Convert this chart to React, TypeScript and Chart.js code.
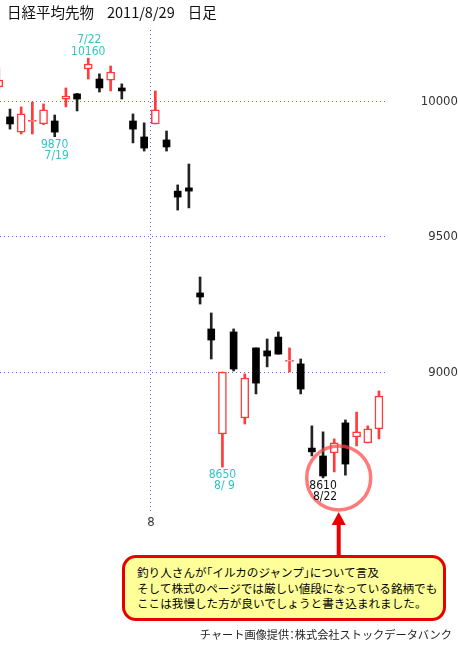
import React, { useEffect, useRef } from 'react';
import { Chart, registerables } from 'chart.js';

Chart.register(...registerables);

// ---- data ----
const DATES = ['7/11', '7/12', '7/13', '7/14', '7/15', '7/19', '7/20', '7/21', '7/22', '7/25', '7/26', '7/27', '7/28', '7/29', '8/1', '8/2', '8/3', '8/4', '8/5', '8/8', '8/9', '8/10', '8/11', '8/12', '8/15', '8/16', '8/17', '8/18', '8/19', '8/22', '8/23', '8/24', '8/25', '8/26', '8/29'];
const OPEN = [10054, 9943, 9887, 9926, 9917, 9928, 10009, 10028, 10120, 10083, 10079, 10050, 9928, 9869, 9917, 9858, 9669, 9681, 9293, 9160, 8772, 9149, 8831, 9090, 9079, 9130, 9040, 9031, 8720, 8691, 8702, 8813, 8761, 8739, 8791];
const HIGH = [10124, 9972, 9980, 9998, 9991, 9950, 10050, 10030, 10160, 10102, 10131, 10065, 9954, 9921, 10039, 9891, 9692, 9769, 9352, 9219, 9001, 9160, 8994, 9090, 9123, 9149, 9090, 9049, 8802, 8780, 8754, 8824, 8853, 8802, 8931];
const LOW = [10045, 9898, 9880, 9880, 9915, 9870, 9980, 9965, 10083, 10035, 10039, 10009, 9847, 9817, 9917, 9817, 9599, 9607, 9252, 9049, 8650, 9005, 8809, 8920, 9020, 9067, 9001, 8920, 8691, 8610, 8632, 8620, 8728, 8739, 8754];
const CLOSE = [10079, 9917, 9954, 9930, 9969, 9887, 10020, 10009, 10138, 10050, 10109, 10039, 9898, 9828, 9969, 9832, 9647, 9669, 9278, 9119, 9001, 9012, 8979, 8960, 9060, 9067, 9044, 8938, 8706, 8617, 8739, 8661, 8780, 8791, 8912];

const Y_TICKS = [9000, 9500, 10000];
const MONTH_MARKS = [13.6];
const MONTH_LABELS = ['8'];

const HIGH_NOTE_DATES = ['7/22'];
const HIGH_NOTE_VALUES = [10160];
const LOW_NOTE_DATES = ['7/19', '8/9', '8/22'];
const LOW_NOTE_TEXT = ['7/19', '8/ 9', '8/22'];
const LOW_NOTE_VALUES = [9870, 8650, 8610];

const CIRCLE_X = 30.4;
const CIRCLE_Y = 8610;

const TITLE = '日経平均先物    2011/8/29    日足';
const NOTE_LINES = [
  '釣り人さんが「イルカのジャンプ」について言及',
  'そして株式のページでは厳しい値段になっている銘柄でも',
  'ここは我慢した方が良いでしょうと書き込まれました。',
];
const CREDIT = 'チャート画像提供：株式会社ストックデータバンク';

// ---- styles ----
const RED = '#ff3b3b';
const BLACK = '#000000';
const WICK_BLACK = '#222222';
const GRID = 'rgba(70,70,255,0.85)';
const CYAN = 'rgb(50,196,196)';
const NARROW = "'Liberation Sans Narrow', 'DejaVu Sans Condensed', 'Arial Narrow', sans-serif";
const CJK = "'Noto Sans CJK JP', 'Noto Sans', sans-serif";

const X_MIN = 0.106;
const X_MAX = 34.63;
const Y_MIN = 8484;
const Y_MAX = 10264;

const idx = (d: string) => DATES.indexOf(d);

const zeroPad = (axis: any) => {
  axis.paddingLeft = 0;
  axis.paddingRight = 0;
  axis.paddingTop = 0;
  axis.paddingBottom = 0;
};

const notesPlugin = {
  id: 'priceNotes',
  afterDatasetsDraw(chart: any) {
    const { ctx, scales } = chart;
    const xs = scales.x;
    const ys = scales.y;
    ctx.save();
    ctx.font = `12px ${NARROW}`;
    ctx.textAlign = 'center';
    ctx.textBaseline = 'middle';
    HIGH_NOTE_DATES.forEach((d, k) => {
      const px = xs.getPixelForValue(idx(d));
      const py = ys.getPixelForValue(HIGH_NOTE_VALUES[k]);
      ctx.fillStyle = CYAN;
      ctx.fillText(String(HIGH_NOTE_VALUES[k]), px, py - 6);
      ctx.fillText(d, px + 1, py - 18);
    });
    LOW_NOTE_DATES.forEach((d, k) => {
      const px = xs.getPixelForValue(idx(d));
      const py = ys.getPixelForValue(LOW_NOTE_VALUES[k]);
      ctx.fillStyle = k === 2 ? '#111' : CYAN;
      ctx.fillText(String(LOW_NOTE_VALUES[k]), px, py + 8);
      ctx.fillText(LOW_NOTE_TEXT[k], px + 2, py + 19);
    });
    // arrow from the highlight circle down to the note box
    const cx = xs.getPixelForValue(CIRCLE_X);
    const cy = ys.getPixelForValue(CIRCLE_Y);
    const tip = cy + 34;
    ctx.fillStyle = '#e80000';
    ctx.beginPath();
    ctx.moveTo(cx, tip);
    ctx.lineTo(cx + 7, tip + 13);
    ctx.lineTo(cx - 7, tip + 13);
    ctx.closePath();
    ctx.fill();
    ctx.fillRect(cx - 2, tip + 12, 4, 558 - (tip + 12));
    ctx.restore();
  },
};

export default function App() {
  const ref = useRef<HTMLCanvasElement | null>(null);

  useEffect(() => {
    if (!ref.current) return;
    const isRed = DATES.map((_, i) => CLOSE[i] >= OPEN[i]);
    const redBodies: any[] = [];
    const blackBodies: any[] = [];
    DATES.forEach((_, i) => {
      const pt = { x: i, y: [OPEN[i], CLOSE[i]] };
      (isRed[i] ? redBodies : blackBodies).push(pt);
    });
    const wicks = DATES.map((_, i) => ({ x: i, y: [LOW[i], HIGH[i]] }));

    const chart = new Chart(ref.current, {
      type: 'bar',
      data: {
        datasets: [
          {
            type: 'bubble',
            data: [{ x: CIRCLE_X, y: CIRCLE_Y, r: 32 }],
            backgroundColor: 'rgba(0,0,0,0)',
            borderColor: 'rgba(255,70,70,0.72)',
            borderWidth: 3.5,
            clip: false,
            order: 0,
          } as any,
          {
            data: blackBodies,
            backgroundColor: BLACK,
            borderColor: BLACK,
            borderWidth: 0,
            barThickness: 7,
            grouped: false,
            borderSkipped: false,
            clip: 0,
            order: 1,
          } as any,
          {
            data: redBodies,
            backgroundColor: '#ffffff',
            borderColor: RED,
            borderWidth: 1.5,
            barThickness: 8,
            grouped: false,
            borderSkipped: false,
            clip: 0,
            order: 1,
          } as any,
          {
            data: wicks,
            backgroundColor: DATES.map((_, i) => (isRed[i] ? RED : WICK_BLACK)),
            borderWidth: 0,
            barThickness: 2,
            grouped: false,
            clip: 0,
            order: 2,
          } as any,
        ],
      },
      options: {
        animation: false,
        responsive: false,
        devicePixelRatio: 1,
        events: [],
        layout: { autoPadding: false, padding: { top: 30, bottom: 115, left: 0, right: 0 } },
        plugins: { legend: { display: false }, tooltip: { enabled: false }, title: { display: false } },
        scales: {
          x: {
            type: 'linear',
            position: 'bottom',
            min: X_MIN,
            max: X_MAX,
            offset: false,
            grid: { offset: false, color: GRID, drawTicks: false, lineWidth: 1 },
            border: { display: false, dash: [1, 3] },
            afterBuildTicks: (axis: any) => {
              axis.ticks = MONTH_MARKS.map((v) => ({ value: v }));
            },
            afterFit: (axis: any) => {
              axis.height = 20;
              zeroPad(axis);
            },
            ticks: {
              autoSkip: false,
              maxRotation: 0,
              padding: 3,
              color: '#333',
              font: { family: NARROW, size: 13 },
              callback: (_v: any, i: number) => MONTH_LABELS[i],
            },
          },
          y: {
            type: 'linear',
            position: 'right',
            min: Y_MIN,
            max: Y_MAX,
            grid: { color: GRID, drawTicks: false, lineWidth: 1 },
            border: { display: false, dash: [1, 3] },
            afterBuildTicks: (axis: any) => {
              axis.ticks = Y_TICKS.map((v) => ({ value: v }));
            },
            afterFit: (axis: any) => {
              axis.width = 72;
              zeroPad(axis);
            },
            ticks: {
              crossAlign: 'far',
              padding: 38,
              color: '#333',
              font: { family: NARROW, size: 13 },
              callback: (v: any) => String(v),
            },
          },
        },
      } as any,
      plugins: [notesPlugin],
    });
    return () => chart.destroy();
  }, []);

  return (
    <div style={{ position: 'absolute', left: 0, top: 0, width: 458, height: 647, background: '#fff', overflow: 'hidden' }}>
      <canvas ref={ref} width={458} height={647} style={{ position: 'absolute', left: 0, top: 0, width: 458, height: 647 }} />
      <div style={{ position: 'absolute', left: 7, top: 2, fontFamily: CJK, fontSize: 14.5, lineHeight: '20px', color: '#111', whiteSpace: 'pre' }}>
        {TITLE}
      </div>
      <div
        style={{
          position: 'absolute',
          left: 122,
          top: 555,
          width: 324,
          height: 66,
          boxSizing: 'border-box',
          border: '3px solid #e80000',
          borderRadius: 14,
          background: '#ffff99',
          padding: '7px 0 0 12px',
          fontFamily: CJK,
          fontSize: 11.6,
          lineHeight: '15.5px',
          color: '#000',
          whiteSpace: 'nowrap',
          fontFeatureSettings: '"halt"',
        }}
      >
        {NOTE_LINES.map((l, i) => (
          <div key={i}>{l}</div>
        ))}
      </div>
      <div style={{ position: 'absolute', right: 6, top: 627, fontFamily: CJK, fontSize: 11.2, lineHeight: '14px', color: '#222', whiteSpace: 'nowrap', fontFeatureSettings: '"halt"' }}>
        {CREDIT}
      </div>
    </div>
  );
}
